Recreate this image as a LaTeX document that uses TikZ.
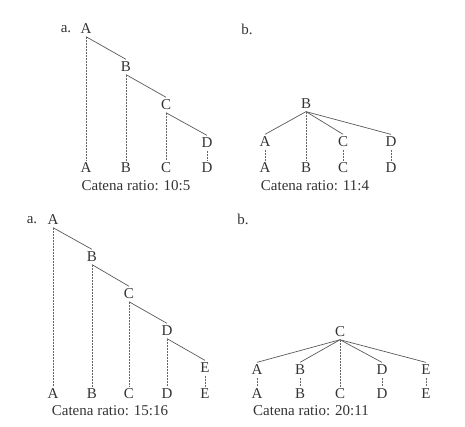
\documentclass[tikz,border=0pt]{standalone}
\usepackage{fontspec}
\setmainfont{Liberation Serif}
\usepackage{tikz}

\begin{document}
\begin{tikzpicture}[x=1pt, y=-1pt,
  every node/.style={inner sep=2.5pt, text=black!80, font=\fontsize{15}{18}\selectfont},
  dep/.style={draw=black!65, line width=0.7pt},
  proj/.style={draw=black!60, dash pattern=on 0.7pt off 0.8pt, line width=0.7pt}]
\useasboundingbox (0,0) rectangle (465,427);

% top left, a.
\node (la1) at (66,29) {a.};
\node (A1) at (86,29) {A};
\node (B1) at (126,67) {B};
\node (C1) at (166,105) {C};
\node (D1) at (207,143) {D};
\node (A1b) at (86,168) {A};
\node (B1b) at (126,168) {B};
\node (C1b) at (166,168) {C};
\node (D1b) at (207,168) {D};
\node (r1) at (136,186) {Catena ratio: 10:5};
\draw[dep] (A1.south) -- (B1.north);
\draw[dep] (B1.south) -- (C1.north);
\draw[dep] (C1.south) -- (D1.north);
\draw[proj] (A1.south) -- (A1b.north);
\draw[proj] (B1.south) -- (B1b.north);
\draw[proj] (C1.south) -- (C1b.north);
\draw[proj] (D1.south) -- (D1b.north);

% top right, b.
\node (lb1) at (247,29) {b.};
\node (B2) at (306,104) {B};
\node (A2) at (265,142) {A};
\node (C2) at (343,142) {C};
\node (D2) at (391,142) {D};
\node (A2b) at (265,168) {A};
\node (B2b) at (306,168) {B};
\node (C2b) at (343,168) {C};
\node (D2b) at (391,168) {D};
\node (r2) at (315,186) {Catena ratio: 11:4};
\draw[dep] (B2.south) -- (A2.north);
\draw[dep] (B2.south) -- (C2.north);
\draw[dep] (B2.south) -- (D2.north);
\draw[proj] (B2.south) -- (B2b.north);
\draw[proj] (A2.south) -- (A2b.north);
\draw[proj] (C2.south) -- (C2b.north);
\draw[proj] (D2.south) -- (D2b.north);

% bottom left, a.
\node (la3) at (32,220) {a.};
\node (A3) at (53,220) {A};
\node (B3) at (92,257) {B};
\node (C3) at (129,294) {C};
\node (D3) at (167,331) {D};
\node (E3) at (205,368) {E};
\node (A3b) at (53,394) {A};
\node (B3b) at (92,394) {B};
\node (C3b) at (129,394) {C};
\node (D3b) at (167,394) {D};
\node (E3b) at (205,394) {E};
\node (r3) at (110,411) {Catena ratio: 15:16};
\draw[dep] (A3.south) -- (B3.north);
\draw[dep] (B3.south) -- (C3.north);
\draw[dep] (C3.south) -- (D3.north);
\draw[dep] (D3.south) -- (E3.north);
\draw[proj] (A3.south) -- (A3b.north);
\draw[proj] (B3.south) -- (B3b.north);
\draw[proj] (C3.south) -- (C3b.north);
\draw[proj] (D3.south) -- (D3b.north);
\draw[proj] (E3.south) -- (E3b.north);

% bottom right, b.
\node (lb3) at (243,219) {b.};
\node (C4) at (340,332) {C};
\node (A4) at (257,370) {A};
\node (B4) at (300,370) {B};
\node (D4) at (382,370) {D};
\node (E4) at (426,370) {E};
\node (A4b) at (257,394) {A};
\node (B4b) at (300,394) {B};
\node (C4b) at (340,394) {C};
\node (D4b) at (382,394) {D};
\node (E4b) at (426,394) {E};
\node (r4) at (311,411) {Catena ratio: 20:11};
\draw[dep] (C4.south) -- (A4.north);
\draw[dep] (C4.south) -- (B4.north);
\draw[dep] (C4.south) -- (D4.north);
\draw[dep] (C4.south) -- (E4.north);
\draw[proj] (C4.south) -- (C4b.north);
\draw[proj] (A4.south) -- (A4b.north);
\draw[proj] (B4.south) -- (B4b.north);
\draw[proj] (D4.south) -- (D4b.north);
\draw[proj] (E4.south) -- (E4b.north);
\end{tikzpicture}
\end{document}
